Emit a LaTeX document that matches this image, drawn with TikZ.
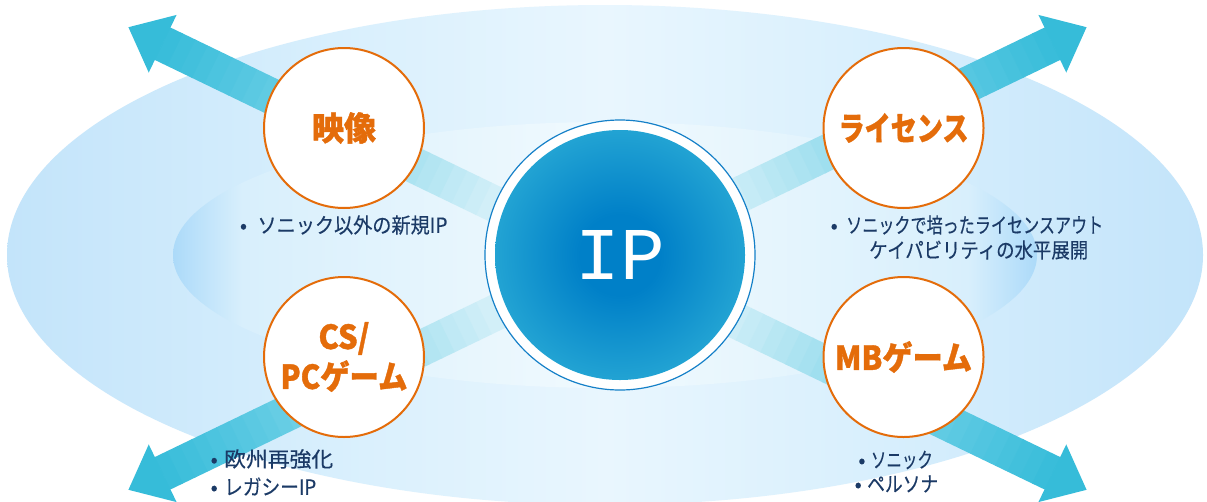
\documentclass[tikz,border=0pt]{standalone}
\usepackage{fontspec}
\usepackage{graphicx}
\usetikzlibrary{calc}
\newfontfamily\jp[FakeBold=0.3]{Noto Sans CJK JP}
\newfontfamily\jph{Noto Sans CJK JP}[BoldFeatures={FakeBold=1.2}]
\newfontfamily\ipfont{Liberation Mono}
\definecolor{orng}{HTML}{E46C0A}
\definecolor{navy}{HTML}{1B3A66}
\definecolor{ell0}{HTML}{E9F6FE}
\definecolor{ell1}{HTML}{DAF0FD}
\definecolor{ell2}{HTML}{C3E4FA}
\definecolor{ie0}{HTML}{F1FAFE}
\definecolor{ie1}{HTML}{D8EFFC}
\definecolor{ie2}{HTML}{ACDAF9}
\definecolor{ip0}{HTML}{0080C8}
\definecolor{ip1}{HTML}{22A3D3}
\definecolor{ringblue}{HTML}{1580C8}
\definecolor{atip}{HTML}{36BCD9}
\definecolor{amid}{HTML}{5ECAE3}
\definecolor{apale}{HTML}{D2EFF8}
\pgfdeclarehorizontalshading{outerell}{100bp}{color(0bp)=(ell2); color(25bp)=(ell2); color(40bp)=(ell1); color(50bp)=(ell0); color(60bp)=(ell1); color(75bp)=(ell2); color(100bp)=(ell2)}
\pgfdeclarehorizontalshading{innerell}{100bp}{color(0bp)=(ie2); color(25bp)=(ie2); color(29bp)=(ie1); color(50bp)=(ie0); color(71bp)=(ie1); color(75bp)=(ie2); color(100bp)=(ie2)}
\pgfdeclareradialshading{ipdisc}{\pgfpoint{0bp}{0bp}}{color(0bp)=(ip0); color(8bp)=(ip0); color(25bp)=(ip1); color(50bp)=(ip1)}
\newcommand\fw[2]{\resizebox{#1}{\height}{#2}}
\newcommand\bl[1]{\makebox[0pt]{•}\hspace{#1}}
% #1 = direction angle (in the picture's x/y frame): shaft in graded bands, then the head
\newcommand\fatarrow[1]{%
  \foreach \i in {0,...,35}{%
    \pgfmathsetmacro\sa{\i*13.72}%
    \pgfmathsetmacro\sb{\sa+14.3}%
    \pgfmathsetmacro\sm{\sa+6.86}%
    \pgfmathtruncatemacro\pp{\sm<380 ? max(0,min(100,(\sm-130)/2.5)) : min(100,(\sm-380)/1.14)}%
    \ifdim\sm pt<380pt \def\cc{amid!\pp!apale}\else\def\cc{atip!\pp!amid}\fi
    \fill[\cc] ($(ctr)+(#1:\sa)+(#1+90:18)$) -- ($(ctr)+(#1:\sb)+(#1+90:18)$) --
      ($(ctr)+(#1:\sb)+(#1-90:18)$) -- ($(ctr)+(#1:\sa)+(#1-90:18)$) -- cycle;
  }
  \fill[atip] ($(ctr)+(#1:494)+(#1+90:32)$) -- ($(ctr)+(#1:532)$) -- ($(ctr)+(#1:494)+(#1-90:32)$) -- cycle;}
\tikzset{
  ocirc/.style={circle, draw=orng, line width=2pt, fill=white, minimum size=160pt, inner sep=0pt,
    align=center, text=orng, font=\jph\bfseries\fontsize{33}{40}\selectfont},
  btxt/.style={anchor=west, inner sep=0pt, text=navy, font=\jp\fontsize{21}{25}\selectfont}
}
\begin{document}
\begin{tikzpicture}[x=1pt,y=-1pt]
\useasboundingbox (0,0) rectangle (1207,501);
\fill[white] (0,0) rectangle (1207,501);
% background ellipses
\shade[shading=outerell] (605,255) ellipse [x radius=598, y radius=250];
\shade[shading=innerell] (605,255) ellipse [x radius=432, y radius=133];
% arrows
\coordinate (ctr) at (607.5,258.5);
\fatarrow{205.77}
\fatarrow{-25.77}
\fatarrow{154.23}
\fatarrow{25.77}
% IP circle
\node[circle, draw=ringblue, line width=1.2pt, fill=white, minimum size=270pt, inner sep=0pt] (ipring) at (620,255) {};
\node[circle, shading=ipdisc, minimum size=250pt, inner sep=0pt, text=white] (ip) at (ipring.center) {\resizebox{!}{49pt}{\ipfont IP}};
% orange circles
\node[ocirc] (eizo) at (344,128) {\fw{64pt}{映像}};
\node[ocirc] (lic) at (903.5,128) {\fw{130pt}{ライセンス}};
\node[ocirc] (cspc) at (344,357) {\fw{51pt}{CS/}\\\fw{127pt}{PCゲーム}};
\node[ocirc] (mb) at (903.5,357) {\fw{137pt}{MBゲーム}};
% bullet texts
\node[btxt] (t1) at (243.3,225) {\bl{14pt}\fw{190pt}{ソニック以外の新規IP}};
\node[btxt] (t2) at (834,225) {\bl{12pt}\fw{257pt}{ソニックで培ったライセンスアウト}};
\node[btxt] (t3) at (869,250) {\fw{219pt}{ケイパビリティの水平展開}};
\node[btxt] (t4) at (214,459) {\bl{10pt}\fw{109pt}{欧州再強化}};
\node[btxt] (t5) at (214,486.5) {\bl{10pt}\fw{92pt}{レガシーIP}};
\node[btxt] (t6) at (861.7,460) {\bl{9pt}\fw{62pt}{ソニック}};
\node[btxt] (t7) at (858,484) {\bl{9pt}\fw{71pt}{ペルソナ}};
\end{tikzpicture}
\end{document}
